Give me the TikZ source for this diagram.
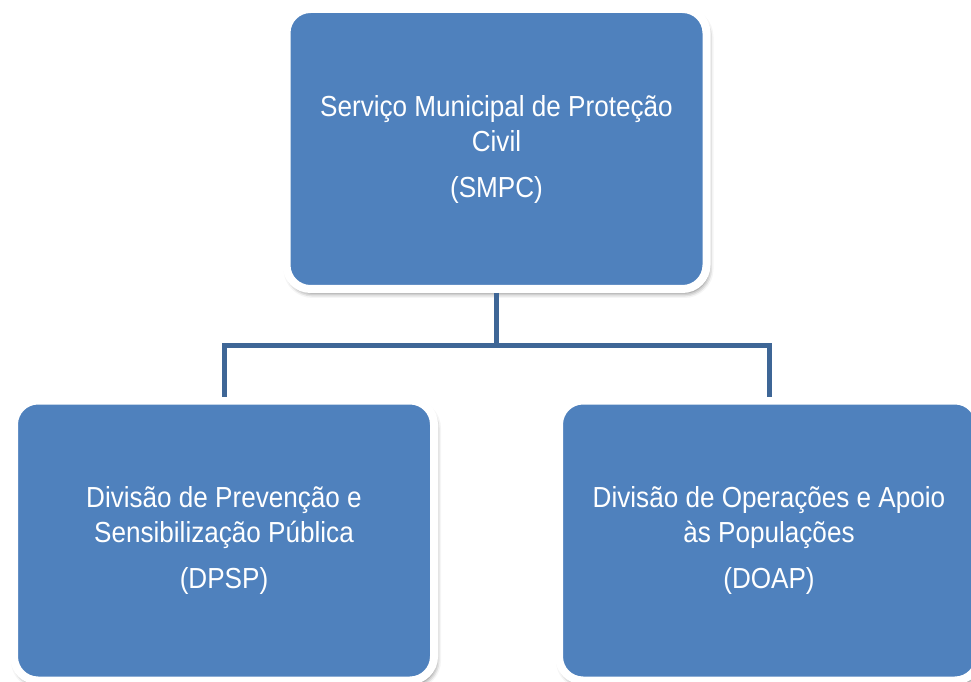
\documentclass[tikz,border=0pt]{standalone}
\usepackage{fontspec}
\setmainfont[FakeStretch=0.9]{Liberation Sans}
\usetikzlibrary{shadows.blur}
\definecolor{boxblue}{RGB}{79,129,189}
\definecolor{linkblue}{RGB}{62,102,150}
\begin{document}
\begin{tikzpicture}[x=1pt,y=1pt,
  orgbox/.style={rectangle, rounded corners=24pt, fill=boxblue, draw=white,
    line width=8pt, minimum width=420pt, minimum height=280pt,
    text=white, align=center, inner sep=0pt,
    font=\fontsize{29}{35}\selectfont,
    blur shadow={shadow xshift=2pt, shadow yshift=-4pt, shadow blur radius=5pt, shadow opacity=60}},
  link/.style={draw=linkblue, line width=5pt}]
\useasboundingbox (0,0) rectangle (971,681);
\node[orgbox] (smpc) at (496.5,532) {Serviço Municipal de Proteção\\Civil\\[11pt](SMPC)};
\node[orgbox] (dpsp) at (224,140.5) {Divisão de Prevenção e\\Sensibilização Pública\\[11pt](DPSP)};
\node[orgbox] (doap) at (769,140.5) {Divisão de Operações e Apoio\\às Populações\\[11pt](DOAP)};
\coordinate (bus) at (496.5,336);
\draw[link] (smpc.south) -- (bus);
\draw[link] (dpsp.north) |- (bus) -| (doap.north);
\end{tikzpicture}
\end{document}
